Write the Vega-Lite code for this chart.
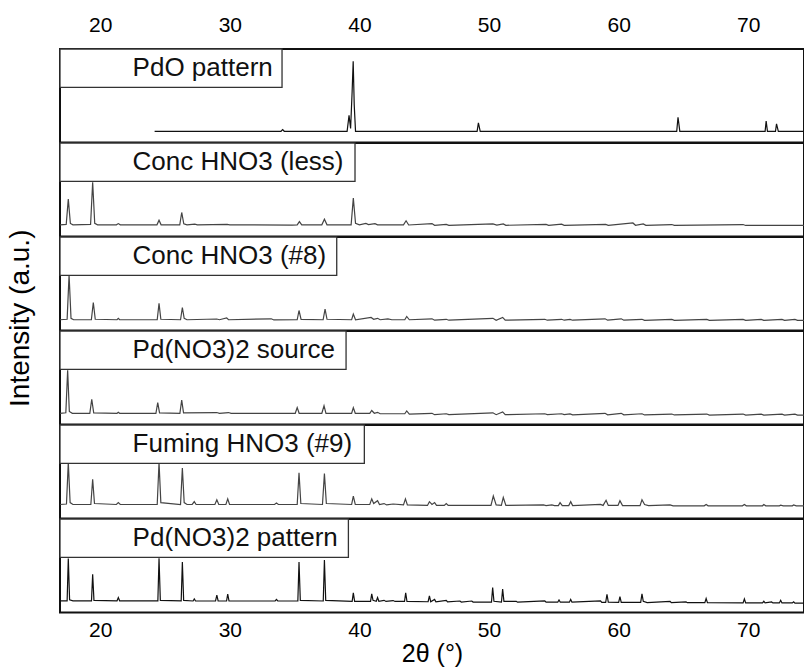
{
  "$schema": "https://vega.github.io/schema/vega-lite/v6.json",
  "background": "white",
  "padding": {"left": 6, "top": 13, "right": 0, "bottom": 0},
  "bounds": "flush",
  "title": {"text": "Intensity (a.u.)", "orient": "left", "anchor": "middle", "fontSize": 28, "fontWeight": "normal", "font": "Liberation Sans", "color": "#000", "offset": 22, "dx": 22},
  "config": {
    "view": {"stroke": "#111", "strokeWidth": 2},
    "font": "Liberation Sans",
    "axis": {"labelColor": "#000", "titleColor": "#000", "labelFont": "Liberation Sans", "titleFont": "Liberation Sans", "grid": false, "domain": false, "ticks": false, "tickSize": 0}
  },
  "spacing": 0,
  "datasets": {
    "p1": [{"x":24.2,"y":12},{"x":33.95,"y":12},{"x":34.08,"y":13.8},{"x":34.2,"y":12},{"x":39.05,"y":12},{"x":39.2,"y":29},{"x":39.32,"y":15},{"x":39.44,"y":55},{"x":39.52,"y":87},{"x":39.6,"y":40},{"x":39.7,"y":12},{"x":49.08,"y":12},{"x":49.18,"y":21},{"x":49.32,"y":12},{"x":64.48,"y":12},{"x":64.58,"y":27},{"x":64.72,"y":12},{"x":71.3,"y":12},{"x":71.38,"y":23},{"x":71.48,"y":12},{"x":72.1,"y":12},{"x":72.18,"y":20},{"x":72.32,"y":12},{"x":74.3,"y":12}],
    "p2": [{"x":16.9,"y":12.5},{"x":17.38,"y":13},{"x":17.54,"y":40},{"x":17.7,"y":14},{"x":17.9,"y":12.5},{"x":19.26,"y":13},{"x":19.42,"y":58},{"x":19.58,"y":14},{"x":19.8,"y":12.5},{"x":21.25,"y":12.5},{"x":21.4,"y":13.8},{"x":21.55,"y":12.5},{"x":24.38,"y":12.5},{"x":24.54,"y":17.5},{"x":24.7,"y":12.5},{"x":26.14,"y":12.5},{"x":26.29,"y":25.7},{"x":26.45,"y":13.5},{"x":26.7,"y":12.5},{"x":27.3,"y":13.3},{"x":27.5,"y":12.5},{"x":29.8,"y":13},{"x":30,"y":12.5},{"x":34.8,"y":12.2},{"x":35.2,"y":12.5},{"x":35.37,"y":16},{"x":35.55,"y":12.5},{"x":37.1,"y":12.5},{"x":37.3,"y":18.5},{"x":37.5,"y":12.5},{"x":39.36,"y":12.5},{"x":39.53,"y":41},{"x":39.7,"y":14},{"x":40.0,"y":12.5},{"x":40.5,"y":14},{"x":40.7,"y":12.8},{"x":41.2,"y":13.8},{"x":41.4,"y":12.5},{"x":43.4,"y":12.5},{"x":43.6,"y":16.8},{"x":43.8,"y":12.3},{"x":45.6,"y":13.8},{"x":45.8,"y":12},{"x":46.7,"y":13},{"x":46.9,"y":12},{"x":50.3,"y":13.5},{"x":50.6,"y":12.2},{"x":51.1,"y":13.5},{"x":51.3,"y":12},{"x":54.4,"y":13},{"x":54.6,"y":12},{"x":55.6,"y":13.2},{"x":55.8,"y":12},{"x":59.0,"y":13},{"x":59.2,"y":12},{"x":61.1,"y":14.5},{"x":61.3,"y":12},{"x":61.9,"y":13.5},{"x":62.1,"y":12},{"x":64.1,"y":12.8},{"x":64.3,"y":12},{"x":69.6,"y":12.8},{"x":69.8,"y":11.8},{"x":74.3,"y":11.8}],
    "p3": [{"x":16.9,"y":11.5},{"x":17.45,"y":12},{"x":17.6,"y":59.6},{"x":17.75,"y":13},{"x":17.95,"y":11.5},{"x":19.32,"y":11.5},{"x":19.47,"y":30},{"x":19.62,"y":12},{"x":21.3,"y":11.5},{"x":21.4,"y":13},{"x":21.5,"y":11.5},{"x":24.4,"y":11.5},{"x":24.54,"y":29},{"x":24.68,"y":12},{"x":26.2,"y":11.5},{"x":26.34,"y":24.6},{"x":26.48,"y":13},{"x":26.7,"y":11.5},{"x":29.0,"y":12.3},{"x":29.2,"y":11.5},{"x":29.76,"y":13.5},{"x":29.9,"y":11.5},{"x":33.2,"y":12.5},{"x":33.4,"y":11.3},{"x":35.2,"y":11.5},{"x":35.34,"y":21.4},{"x":35.5,"y":11.8},{"x":37.2,"y":11.5},{"x":37.35,"y":22.8},{"x":37.5,"y":12},{"x":39.4,"y":11.5},{"x":39.53,"y":17.5},{"x":39.7,"y":11.5},{"x":40.9,"y":14},{"x":41.1,"y":12},{"x":41.4,"y":13},{"x":41.6,"y":11.5},{"x":42.2,"y":12.5},{"x":42.5,"y":11.5},{"x":43.5,"y":11.5},{"x":43.65,"y":15},{"x":43.85,"y":11.5},{"x":45.6,"y":12.5},{"x":45.8,"y":11},{"x":46.7,"y":12},{"x":46.9,"y":11},{"x":50.3,"y":13},{"x":50.55,"y":11},{"x":51.05,"y":14},{"x":51.25,"y":11},{"x":54.3,"y":12},{"x":54.5,"y":11},{"x":55.6,"y":12},{"x":55.8,"y":11},{"x":56.25,"y":11.8},{"x":56.45,"y":11},{"x":58.95,"y":12.5},{"x":59.15,"y":11},{"x":60.2,"y":12.5},{"x":60.4,"y":11},{"x":61.8,"y":12},{"x":62,"y":10.8},{"x":64.1,"y":11.8},{"x":64.3,"y":10.8},{"x":66.8,"y":11.8},{"x":67,"y":10.8},{"x":69.6,"y":11.8},{"x":69.8,"y":10.8},{"x":71.0,"y":11.8},{"x":71.2,"y":10.8},{"x":72.6,"y":11.8},{"x":72.8,"y":10.8},{"x":73.6,"y":11.8},{"x":73.8,"y":10.8},{"x":74.3,"y":10.8}],
    "p4": [{"x":16.9,"y":12},{"x":17.35,"y":12.5},{"x":17.49,"y":58},{"x":17.62,"y":14},{"x":17.85,"y":12},{"x":19.2,"y":12},{"x":19.35,"y":27},{"x":19.5,"y":12.5},{"x":21.3,"y":12},{"x":21.4,"y":13},{"x":21.5,"y":12},{"x":24.3,"y":12},{"x":24.44,"y":23.5},{"x":24.58,"y":12.5},{"x":26.15,"y":12},{"x":26.29,"y":26},{"x":26.43,"y":12.5},{"x":29.0,"y":12.8},{"x":29.2,"y":12},{"x":29.9,"y":12.8},{"x":30.1,"y":12},{"x":35.05,"y":12},{"x":35.2,"y":18},{"x":35.35,"y":12},{"x":37.1,"y":12},{"x":37.27,"y":20},{"x":37.42,"y":12},{"x":39.4,"y":12},{"x":39.53,"y":18},{"x":39.68,"y":12},{"x":40.8,"y":12},{"x":40.95,"y":15},{"x":41.15,"y":12},{"x":41.4,"y":13},{"x":41.6,"y":11.5},{"x":43.5,"y":11.5},{"x":43.65,"y":14.5},{"x":43.85,"y":11.2},{"x":45.6,"y":12},{"x":45.8,"y":10.5},{"x":46.7,"y":11.5},{"x":46.9,"y":10.5},{"x":50.3,"y":12.5},{"x":50.55,"y":10.5},{"x":51.05,"y":13.5},{"x":51.25,"y":10.5},{"x":54.3,"y":11.5},{"x":54.5,"y":10.5},{"x":55.6,"y":11.5},{"x":55.8,"y":10.5},{"x":56.25,"y":11.3},{"x":56.45,"y":10.3},{"x":58.95,"y":12},{"x":59.15,"y":10.3},{"x":60.2,"y":12},{"x":60.4,"y":10.3},{"x":61.8,"y":11.5},{"x":62,"y":10.2},{"x":64.1,"y":11.2},{"x":64.3,"y":10.2},{"x":66.8,"y":11.2},{"x":67,"y":10},{"x":69.6,"y":11.2},{"x":69.8,"y":10},{"x":71.0,"y":11},{"x":71.2,"y":10},{"x":72.6,"y":11},{"x":72.8,"y":10},{"x":73.6,"y":11},{"x":73.8,"y":10},{"x":74.3,"y":10}],
    "p5": [{"x":16.9,"y":15},{"x":17.4,"y":15.5},{"x":17.54,"y":60},{"x":17.68,"y":17},{"x":17.9,"y":15},{"x":19.28,"y":15},{"x":19.42,"y":42},{"x":19.56,"y":16},{"x":21.25,"y":15},{"x":21.4,"y":17},{"x":21.55,"y":15},{"x":24.4,"y":15},{"x":24.54,"y":60},{"x":24.68,"y":17},{"x":26.2,"y":15},{"x":26.34,"y":54},{"x":26.48,"y":17},{"x":26.7,"y":15},{"x":27.1,"y":15},{"x":27.26,"y":18},{"x":27.4,"y":15},{"x":28.85,"y":15},{"x":29.0,"y":20},{"x":29.15,"y":15},{"x":29.7,"y":15},{"x":29.84,"y":21},{"x":29.98,"y":15},{"x":33.45,"y":15},{"x":33.6,"y":16.5},{"x":33.75,"y":15},{"x":35.2,"y":15},{"x":35.34,"y":49},{"x":35.48,"y":16},{"x":37.15,"y":15},{"x":37.3,"y":48},{"x":37.45,"y":16},{"x":39.4,"y":15},{"x":39.53,"y":24},{"x":39.68,"y":15},{"x":40.8,"y":15},{"x":40.95,"y":21},{"x":41.1,"y":16},{"x":41.4,"y":19},{"x":41.55,"y":15},{"x":41.9,"y":16},{"x":42.1,"y":14.5},{"x":42.6,"y":15.5},{"x":43.4,"y":14.5},{"x":43.55,"y":21},{"x":43.7,"y":14.5},{"x":45.25,"y":14},{"x":45.4,"y":18},{"x":45.6,"y":15},{"x":45.8,"y":17},{"x":45.95,"y":14},{"x":46.55,"y":14},{"x":46.7,"y":16},{"x":46.85,"y":14},{"x":50.15,"y":14},{"x":50.33,"y":24},{"x":50.55,"y":14.5},{"x":50.95,"y":14},{"x":51.1,"y":22.5},{"x":51.3,"y":14},{"x":54.2,"y":14.5},{"x":54.4,"y":13.8},{"x":54.85,"y":14.5},{"x":55.05,"y":13.8},{"x":55.35,"y":13.8},{"x":55.48,"y":17},{"x":55.65,"y":13.8},{"x":56.15,"y":13.8},{"x":56.3,"y":18},{"x":56.45,"y":13.8},{"x":58.6,"y":15},{"x":58.8,"y":14},{"x":59.03,"y":19.5},{"x":59.2,"y":14},{"x":59.95,"y":14},{"x":60.1,"y":19},{"x":60.3,"y":13.8},{"x":61.65,"y":13.8},{"x":61.8,"y":20},{"x":62.0,"y":15},{"x":62.3,"y":13.8},{"x":63.97,"y":14.5},{"x":64.2,"y":13.6},{"x":66.6,"y":13.6},{"x":66.75,"y":15},{"x":66.9,"y":13.6},{"x":69.55,"y":13.6},{"x":69.7,"y":15},{"x":69.85,"y":13.6},{"x":71.1,"y":13.6},{"x":71.2,"y":15},{"x":71.35,"y":13.6},{"x":72.4,"y":13.6},{"x":72.5,"y":14.2},{"x":72.7,"y":13.6},{"x":73.4,"y":13.6},{"x":73.5,"y":14.5},{"x":73.7,"y":13.6},{"x":74.3,"y":13.6}],
    "p6": [{"x":16.9,"y":12.5},{"x":17.45,"y":12.5},{"x":17.54,"y":57.8},{"x":17.64,"y":13.5},{"x":17.9,"y":12.5},{"x":19.33,"y":12.5},{"x":19.42,"y":41},{"x":19.52,"y":13},{"x":21.3,"y":12.5},{"x":21.4,"y":16},{"x":21.5,"y":12.5},{"x":24.45,"y":12.5},{"x":24.54,"y":58},{"x":24.64,"y":13},{"x":26.25,"y":12.5},{"x":26.34,"y":54},{"x":26.44,"y":13},{"x":27.17,"y":12.3},{"x":27.26,"y":14.5},{"x":27.36,"y":12.3},{"x":28.9,"y":12.3},{"x":29.0,"y":18.5},{"x":29.1,"y":12.3},{"x":29.75,"y":12.3},{"x":29.84,"y":19.6},{"x":29.94,"y":12.3},{"x":33.5,"y":12.3},{"x":33.6,"y":14},{"x":33.7,"y":12.3},{"x":35.25,"y":12.3},{"x":35.34,"y":54},{"x":35.44,"y":13},{"x":37.21,"y":12.3},{"x":37.3,"y":56},{"x":37.4,"y":13},{"x":39.44,"y":12},{"x":39.53,"y":21},{"x":39.63,"y":12},{"x":40.86,"y":12},{"x":40.95,"y":20},{"x":41.05,"y":13},{"x":41.3,"y":12},{"x":41.4,"y":16},{"x":41.5,"y":12},{"x":41.9,"y":13},{"x":42.05,"y":11.8},{"x":42.6,"y":12.8},{"x":42.75,"y":11.8},{"x":43.48,"y":11.8},{"x":43.57,"y":21},{"x":43.67,"y":11.8},{"x":45.3,"y":11.5},{"x":45.4,"y":17.7},{"x":45.5,"y":11.5},{"x":45.8,"y":14},{"x":45.9,"y":11.5},{"x":46.7,"y":13},{"x":46.8,"y":11.3},{"x":47.76,"y":12.3},{"x":47.86,"y":11.2},{"x":48.67,"y":12.3},{"x":48.77,"y":11.2},{"x":50.19,"y":11.2},{"x":50.28,"y":26.7},{"x":50.38,"y":12},{"x":50.96,"y":11.2},{"x":51.05,"y":25},{"x":51.15,"y":12},{"x":52.1,"y":12},{"x":52.2,"y":11},{"x":54.3,"y":12.5},{"x":54.4,"y":11},{"x":55.3,"y":11},{"x":55.4,"y":13.5},{"x":55.5,"y":11},{"x":56.2,"y":11},{"x":56.3,"y":14},{"x":56.4,"y":11},{"x":58.6,"y":12.5},{"x":58.7,"y":10.8},{"x":59.0,"y":10.8},{"x":59.1,"y":19.5},{"x":59.2,"y":11},{"x":60.0,"y":10.8},{"x":60.1,"y":17},{"x":60.2,"y":10.8},{"x":61.7,"y":10.8},{"x":61.8,"y":20},{"x":61.9,"y":12},{"x":62.2,"y":10.6},{"x":63.97,"y":11.8},{"x":64.07,"y":10.5},{"x":65.2,"y":11.3},{"x":65.3,"y":10.5},{"x":66.65,"y":10.5},{"x":66.75,"y":15},{"x":66.85,"y":10.5},{"x":69.6,"y":10.3},{"x":69.7,"y":14.5},{"x":69.8,"y":10.3},{"x":71.1,"y":10.3},{"x":71.2,"y":12},{"x":71.3,"y":10.3},{"x":71.8,"y":11.3},{"x":71.9,"y":10.2},{"x":72.4,"y":10.2},{"x":72.5,"y":13},{"x":72.6,"y":10.2},{"x":73.4,"y":10.2},{"x":73.5,"y":11.5},{"x":73.6,"y":10},{"x":74.3,"y":10}]
  },
  "vconcat": [
    {
      "width": 744, "height": 93.5,
      "layer": [
        {"data": {"name": "p1"}, "mark": {"type": "line", "stroke": "#111", "strokeWidth": 1.2},
         "encoding": {"x": {"field": "x", "type": "quantitative", "scale": {"domain": [16.9, 74.3], "nice": false, "zero": false}, "axis": {"orient": "top", "title": null, "labelFontSize": 21, "labelPadding": 14, "values": [20, 30, 40, 50, 60, 70]}},
                      "y": {"field": "y", "type": "quantitative", "scale": {"domain": [0, 100], "nice": false}, "axis": null}}},
        {"data": {"values": [{"label": "PdO pattern"}]}, "mark": {"type": "rect", "fill": "white", "stroke": "#333", "strokeWidth": 1.3},
         "encoding": {"x": {"datum": 16.9, "type": "quantitative"}, "x2": {"datum": 34.03}, "y": {"datum": 100, "type": "quantitative"}, "y2": {"datum": 59}}},
        {"data": {"values": [{"label": "PdO pattern"}]}, "mark": {"type": "text", "align": "left", "baseline": "middle", "fontSize": 26, "color": "#111"},
         "encoding": {"x": {"datum": 22.5, "type": "quantitative"}, "y": {"datum": 79.5, "type": "quantitative"}, "text": {"field": "label"}}}
      ]
    },
    {
      "width": 744, "height": 93.5,
      "layer": [
        {"data": {"name": "p2"}, "mark": {"type": "line", "stroke": "#444", "strokeWidth": 1.2},
         "encoding": {"x": {"field": "x", "type": "quantitative", "scale": {"domain": [16.9, 74.3], "nice": false, "zero": false}, "axis": null},
                      "y": {"field": "y", "type": "quantitative", "scale": {"domain": [0, 100], "nice": false}, "axis": null}}},
        {"data": {"values": [{"label": "Conc HNO3 (less)"}]}, "mark": {"type": "rect", "fill": "white", "stroke": "#333", "strokeWidth": 1.3},
         "encoding": {"x": {"datum": 16.9, "type": "quantitative"}, "x2": {"datum": 39.66}, "y": {"datum": 100, "type": "quantitative"}, "y2": {"datum": 59}}},
        {"data": {"values": [{"label": "Conc HNO3 (less)"}]}, "mark": {"type": "text", "align": "left", "baseline": "middle", "fontSize": 26, "color": "#111"},
         "encoding": {"x": {"datum": 22.5, "type": "quantitative"}, "y": {"datum": 79.5, "type": "quantitative"}, "text": {"field": "label"}}}
      ]
    },
    {
      "width": 744, "height": 93.5,
      "layer": [
        {"data": {"name": "p3"}, "mark": {"type": "line", "stroke": "#444", "strokeWidth": 1.2},
         "encoding": {"x": {"field": "x", "type": "quantitative", "scale": {"domain": [16.9, 74.3], "nice": false, "zero": false}, "axis": null},
                      "y": {"field": "y", "type": "quantitative", "scale": {"domain": [0, 100], "nice": false}, "axis": null}}},
        {"data": {"values": [{"label": "Conc HNO3 (#8)"}]}, "mark": {"type": "rect", "fill": "white", "stroke": "#333", "strokeWidth": 1.3},
         "encoding": {"x": {"datum": 16.9, "type": "quantitative"}, "x2": {"datum": 38.25}, "y": {"datum": 100, "type": "quantitative"}, "y2": {"datum": 59}}},
        {"data": {"values": [{"label": "Conc HNO3 (#8)"}]}, "mark": {"type": "text", "align": "left", "baseline": "middle", "fontSize": 26, "color": "#111"},
         "encoding": {"x": {"datum": 22.5, "type": "quantitative"}, "y": {"datum": 79.5, "type": "quantitative"}, "text": {"field": "label"}}}
      ]
    },
    {
      "width": 744, "height": 93.5,
      "layer": [
        {"data": {"name": "p4"}, "mark": {"type": "line", "stroke": "#444", "strokeWidth": 1.2},
         "encoding": {"x": {"field": "x", "type": "quantitative", "scale": {"domain": [16.9, 74.3], "nice": false, "zero": false}, "axis": null},
                      "y": {"field": "y", "type": "quantitative", "scale": {"domain": [0, 100], "nice": false}, "axis": null}}},
        {"data": {"values": [{"label": "Pd(NO3)2 source"}]}, "mark": {"type": "rect", "fill": "white", "stroke": "#333", "strokeWidth": 1.3},
         "encoding": {"x": {"datum": 16.9, "type": "quantitative"}, "x2": {"datum": 38.97}, "y": {"datum": 100, "type": "quantitative"}, "y2": {"datum": 59}}},
        {"data": {"values": [{"label": "Pd(NO3)2 source"}]}, "mark": {"type": "text", "align": "left", "baseline": "middle", "fontSize": 26, "color": "#111"},
         "encoding": {"x": {"datum": 22.5, "type": "quantitative"}, "y": {"datum": 79.5, "type": "quantitative"}, "text": {"field": "label"}}}
      ]
    },
    {
      "width": 744, "height": 93.5,
      "layer": [
        {"data": {"name": "p5"}, "mark": {"type": "line", "stroke": "#444", "strokeWidth": 1.2},
         "encoding": {"x": {"field": "x", "type": "quantitative", "scale": {"domain": [16.9, 74.3], "nice": false, "zero": false}, "axis": null},
                      "y": {"field": "y", "type": "quantitative", "scale": {"domain": [0, 100], "nice": false}, "axis": null}}},
        {"data": {"values": [{"label": "Fuming HNO3 (#9)"}]}, "mark": {"type": "rect", "fill": "white", "stroke": "#333", "strokeWidth": 1.3},
         "encoding": {"x": {"datum": 16.9, "type": "quantitative"}, "x2": {"datum": 40.38}, "y": {"datum": 100, "type": "quantitative"}, "y2": {"datum": 59}}},
        {"data": {"values": [{"label": "Fuming HNO3 (#9)"}]}, "mark": {"type": "text", "align": "left", "baseline": "middle", "fontSize": 26, "color": "#111"},
         "encoding": {"x": {"datum": 22.5, "type": "quantitative"}, "y": {"datum": 79.5, "type": "quantitative"}, "text": {"field": "label"}}}
      ]
    },
    {
      "width": 744, "height": 93.5,
      "layer": [
        {"data": {"name": "p6"}, "mark": {"type": "line", "stroke": "#111", "strokeWidth": 1.2},
         "encoding": {"x": {"field": "x", "type": "quantitative", "scale": {"domain": [16.9, 74.3], "nice": false, "zero": false}, "axis": {"orient": "bottom", "title": "2θ (°)", "titleFontSize": 25, "titleFontWeight": "normal", "titlePadding": 1, "labelFontSize": 21, "labelPadding": 7, "values": [20, 30, 40, 50, 60, 70]}},
                      "y": {"field": "y", "type": "quantitative", "scale": {"domain": [0, 100], "nice": false}, "axis": null}}},
        {"data": {"values": [{"label": "Pd(NO3)2 pattern"}]}, "mark": {"type": "rect", "fill": "white", "stroke": "#333", "strokeWidth": 1.3},
         "encoding": {"x": {"datum": 16.9, "type": "quantitative"}, "x2": {"datum": 39.15}, "y": {"datum": 100, "type": "quantitative"}, "y2": {"datum": 59}}},
        {"data": {"values": [{"label": "Pd(NO3)2 pattern"}]}, "mark": {"type": "text", "align": "left", "baseline": "middle", "fontSize": 26, "color": "#111"},
         "encoding": {"x": {"datum": 22.5, "type": "quantitative"}, "y": {"datum": 79.5, "type": "quantitative"}, "text": {"field": "label"}}}
      ]
    }
  ]
}
